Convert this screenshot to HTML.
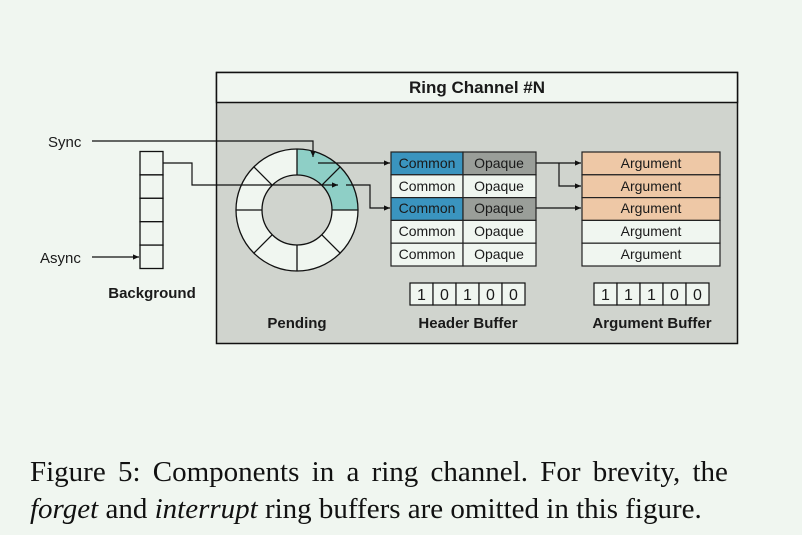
<!DOCTYPE html>
<html><head><meta charset="utf-8"><style>
body{margin:0;background:#f0f6f0;}
svg{display:block}
.s{font-family:"Liberation Sans",sans-serif;font-size:13px;fill:#1a1a1a}
.b{font-family:"Liberation Sans",sans-serif;font-size:14px;font-weight:bold;fill:#1a1a1a}
.c{font-family:"Liberation Serif",serif;font-size:29px;fill:#111}
</style></head><body>
<svg width="802" height="535" viewBox="0 0 802 535" xmlns="http://www.w3.org/2000/svg">
<defs><marker id="a" markerWidth="6" markerHeight="6" refX="5" refY="3" orient="auto"><path d="M0,0.8 L5,3 L0,5.2z" fill="#111"/></marker></defs>
<rect x="0" y="0" width="802" height="535" fill="#f0f6f0"/>
<rect x="216.5" y="72.5" width="521" height="271" fill="#d0d4ce" stroke="#111" stroke-width="1.5"/>
<rect x="216.5" y="72.5" width="521" height="30" fill="#f0f6f0" stroke="#111" stroke-width="1.5"/>
<text class="b" x="477" y="93" text-anchor="middle" style="font-size:17px">Ring Channel #N</text>
<g fill="#f0f6f0" stroke="#111" stroke-width="1.3">
<rect x="140" y="151.5" width="23" height="23.4"/><rect x="140" y="174.9" width="23" height="23.4"/><rect x="140" y="198.3" width="23" height="23.4"/><rect x="140" y="221.7" width="23" height="23.4"/><rect x="140" y="245.1" width="23" height="23.4"/>
</g>
<text class="b" x="152" y="298" text-anchor="middle" style="font-size:15px">Background</text>
<circle cx="297" cy="210" r="48" fill="none" stroke="#f0f6f0" stroke-width="26"/>
<path d="M297,149 A61,61 0 0 1 340.1,166.9 L321.7,185.3 A35,35 0 0 0 297,175z" fill="#8ecfc6"/>
<path d="M340.1,166.9 A61,61 0 0 1 358,210 L332,210 A35,35 0 0 0 321.7,185.3z" fill="#8ecfc6"/>
<g stroke="#111" stroke-width="1.3" fill="none">
<circle cx="297" cy="210" r="61"/><circle cx="297" cy="210" r="35"/>
<line x1="297" y1="149" x2="297" y2="175"/><line x1="297" y1="245" x2="297" y2="271"/>
<line x1="236" y1="210" x2="262" y2="210"/><line x1="332" y1="210" x2="358" y2="210"/>
<line x1="253.9" y1="166.9" x2="272.3" y2="185.3"/><line x1="340.1" y1="166.9" x2="321.7" y2="185.3"/>
<line x1="253.9" y1="253.1" x2="272.3" y2="234.7"/><line x1="340.1" y1="253.1" x2="321.7" y2="234.7"/>
</g>
<text class="b" x="297" y="328" text-anchor="middle" style="font-size:15px">Pending</text>
<text class="s" x="48" y="147" style="font-size:15px">Sync</text>
<text class="s" x="40" y="263" style="font-size:15px">Async</text>
<g stroke="#111" stroke-width="1.2" fill="none">
<polyline points="92,141 313,141 313,157" marker-end="url(#a)"/>
<line x1="92" y1="257" x2="139" y2="257" marker-end="url(#a)"/>
<polyline points="163,163 192,163 192,185 338,185" marker-end="url(#a)"/>
<polyline points="318,163 390,163" marker-end="url(#a)"/>
<polyline points="346,185 370,185 370,208 390,208" marker-end="url(#a)"/>
<polyline points="536,163 581,163" marker-end="url(#a)"/>
<polyline points="559,163 559,186 581,186" marker-end="url(#a)"/>
<polyline points="536,208 581,208" marker-end="url(#a)"/>
</g>
<g stroke="#222" stroke-width="1.2">
<rect x="391" y="152" width="72" height="22.8" fill="#3a94bf"/><rect x="463" y="152" width="73" height="22.8" fill="#9a9e99"/>
<rect x="391" y="174.8" width="72" height="22.8" fill="#f0f6f0"/><rect x="463" y="174.8" width="73" height="22.8" fill="#f0f6f0"/>
<rect x="391" y="197.6" width="72" height="22.8" fill="#3a94bf"/><rect x="463" y="197.6" width="73" height="22.8" fill="#9a9e99"/>
<rect x="391" y="220.4" width="72" height="22.8" fill="#f0f6f0"/><rect x="463" y="220.4" width="73" height="22.8" fill="#f0f6f0"/>
<rect x="391" y="243.2" width="72" height="22.8" fill="#f0f6f0"/><rect x="463" y="243.2" width="73" height="22.8" fill="#f0f6f0"/>
<rect x="582" y="152" width="138" height="22.8" fill="#eec8a6"/>
<rect x="582" y="174.8" width="138" height="22.8" fill="#eec8a6"/>
<rect x="582" y="197.6" width="138" height="22.8" fill="#eec8a6"/>
<rect x="582" y="220.4" width="138" height="22.8" fill="#f0f6f0"/>
<rect x="582" y="243.2" width="138" height="22.8" fill="#f0f6f0"/>
</g>
<g class="s" text-anchor="middle" style="font-size:14px">
<text x="427" y="168">Common</text><text x="499" y="168">Opaque</text>
<text x="427" y="191">Common</text><text x="499" y="191">Opaque</text>
<text x="427" y="213">Common</text><text x="499" y="213">Opaque</text>
<text x="427" y="236">Common</text><text x="499" y="236">Opaque</text>
<text x="427" y="259">Common</text><text x="499" y="259">Opaque</text>
<text x="651" y="168">Argument</text><text x="651" y="191">Argument</text><text x="651" y="213">Argument</text><text x="651" y="236">Argument</text><text x="651" y="259">Argument</text>
</g>
<g stroke="#111" stroke-width="1.2" fill="#f0f6f0">
<rect x="410" y="283" width="23" height="22"/><rect x="433" y="283" width="23" height="22"/><rect x="456" y="283" width="23" height="22"/><rect x="479" y="283" width="23" height="22"/><rect x="502" y="283" width="23" height="22"/>
<rect x="594" y="283" width="23" height="22"/><rect x="617" y="283" width="23" height="22"/><rect x="640" y="283" width="23" height="22"/><rect x="663" y="283" width="23" height="22"/><rect x="686" y="283" width="23" height="22"/>
</g>
<g class="s" text-anchor="middle" style="font-size:16px">
<text x="421.5" y="300">1</text><text x="444.5" y="300">0</text><text x="467.5" y="300">1</text><text x="490.5" y="300">0</text><text x="513.5" y="300">0</text>
<text x="605.5" y="300">1</text><text x="628.5" y="300">1</text><text x="651.5" y="300">1</text><text x="674.5" y="300">0</text><text x="697.5" y="300">0</text>
</g>
<text class="b" x="468" y="328" text-anchor="middle" style="font-size:15px">Header Buffer</text>
<text class="b" x="652" y="328" text-anchor="middle" style="font-size:15px">Argument Buffer</text>
<text class="c" x="30" y="481" word-spacing="5">Figure 5:  Components in a ring channel. For brevity, the</text>
<text class="c" x="30" y="518"><tspan font-style="italic">forget</tspan> and <tspan font-style="italic">interrupt</tspan> ring buffers are omitted in this figure.</text>
</svg>
</body></html>
